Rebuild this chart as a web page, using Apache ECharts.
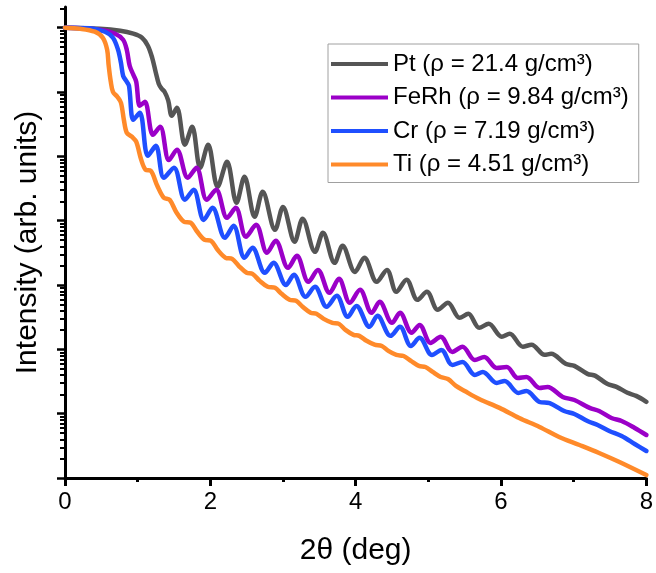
<!DOCTYPE html>
<html><head><meta charset="utf-8">
<script src="https://cdn.jsdelivr.net/npm/echarts@6/dist/echarts.min.js"></script>
<style>html,body{margin:0;padding:0;background:#fff}#c{width:656px;height:573px}</style>
</head><body><div id="c"></div>
<script>
const seriesNames = ['Pt (ρ = 21.4 g/cm³)', 'FeRh (ρ = 9.84 g/cm³)', 'Cr (ρ = 7.19 g/cm³)', 'Ti (ρ = 4.51 g/cm³)'];
const seriesColors = ['#555555', '#9b00c8', '#1f4fff', '#ff8a2a'];
const xTicks = [0, 2, 4, 6, 8];
const yMajorTicks = [1e-7, 1e-6, 1e-5, 1e-4, 1e-3, 1e-2, 1e-1, 1];

// [2theta (deg), intensity]
const ptData = [[0,1],[0.48,0.965],[0.76,0.898],[0.94,0.807],[1.06,0.699],[1.14,0.525],[1.20,0.341],[1.25,0.200],[1.29,0.135],[1.33,0.113],[1.37,0.101],[1.42,7.4e-2],[1.47,4.28e-2],[1.54,5.70e-2],[1.65,1.52e-2],[1.75,2.88e-2],[1.86,6.65e-3],[1.97,1.52e-2],[2.10,3.36e-3],[2.23,8.24e-3],[2.36,1.90e-3],[2.47,4.82e-3],[2.61,1.15e-3],[2.72,2.81e-3],[2.89,7.22e-4],[3.00,1.64e-3],[3.16,4.70e-4],[3.27,1.07e-3],[3.44,3.28e-4],[3.55,6.48e-4],[3.71,2.21e-4],[3.82,4.07e-4],[3.99,1.60e-4],[4.12,2.65e-4],[4.29,1.12e-4],[4.43,1.72e-4],[4.56,7.84e-5],[4.70,1.21e-4],[4.85,5.89e-5],[4.98,7.84e-5],[5.13,4.11e-5],[5.27,5.29e-5],[5.43,3.09e-5],[5.55,3.57e-5],[5.70,2.16e-5],[5.83,2.49e-5],[6.01,1.57e-5],[6.12,1.75e-5],[6.30,1.10e-5],[6.42,1.18e-5],[6.60,8.21e-6],[6.69,8.51e-6],[6.89,5.95e-6],[7.01,5.54e-6],[7.19,4.16e-6],[7.30,3.87e-6],[7.46,2.91e-6],[7.59,2.61e-6],[7.74,2.11e-6],[7.86,1.89e-6],[8.00,1.53e-6]];
const ferhData = [[0,1],[0.48,0.931],[0.69,0.807],[0.80,0.651],[0.85,0.455],[0.89,0.256],[0.94,0.186],[0.98,0.145],[1.03,6.12e-2],[1.10,7.06e-2],[1.21,2.16e-2],[1.31,2.88e-2],[1.43,8.76e-3],[1.54,1.27e-2],[1.69,4.65e-3],[1.81,6.65e-3],[1.95,2.11e-3],[2.08,3.02e-3],[2.23,1.11e-3],[2.35,1.59e-3],[2.49,5.62e-4],[2.63,8.63e-4],[2.78,3.17e-4],[2.90,4.87e-4],[3.07,1.85e-4],[3.19,2.84e-4],[3.35,1.12e-4],[3.48,1.72e-4],[3.64,7.56e-5],[3.77,1.25e-4],[3.92,5.29e-5],[4.06,8.42e-5],[4.22,3.70e-5],[4.33,5.48e-5],[4.50,2.58e-5],[4.61,3.70e-5],[4.77,1.81e-5],[4.88,2.40e-5],[5.03,1.26e-5],[5.17,1.57e-5],[5.33,9.11e-6],[5.47,1.10e-5],[5.64,6.84e-6],[5.77,7.62e-6],[5.94,5.14e-6],[6.08,5.32e-6],[6.23,3.59e-6],[6.35,3.72e-6],[6.53,2.51e-6],[6.64,2.60e-6],[6.85,1.82e-6],[7.01,1.63e-6],[7.22,1.23e-6],[7.35,1.10e-6],[7.52,8.57e-7],[7.66,7.70e-7],[7.84,5.99e-7],[8.00,4.66e-7]];
const crData = [[0,1],[0.34,0.982],[0.55,0.867],[0.66,0.699],[0.73,0.455],[0.77,0.285],[0.80,0.179],[0.84,0.150],[0.88,0.126],[0.94,3.71e-2],[1.03,4.76e-2],[1.14,1.02e-2],[1.25,1.46e-2],[1.36,4.65e-3],[1.50,6.65e-3],[1.65,2.11e-3],[1.77,3.02e-3],[1.91,1.03e-3],[2.03,1.59e-3],[2.20,5.42e-4],[2.32,8.33e-4],[2.47,2.65e-4],[2.58,3.80e-4],[2.75,1.55e-4],[2.87,2.21e-4],[3.04,1.00e-4],[3.15,1.44e-4],[3.31,6.55e-5],[3.44,9.38e-5],[3.60,4.58e-5],[3.74,6.79e-5],[3.89,3.20e-5],[4.01,4.74e-5],[4.19,2.24e-5],[4.30,3.32e-5],[4.48,1.62e-5],[4.61,2.24e-5],[4.76,1.13e-5],[4.88,1.51e-5],[5.05,8.18e-6],[5.18,9.79e-6],[5.33,5.72e-6],[5.47,6.37e-6],[5.64,4.00e-6],[5.75,4.45e-6],[5.94,3.00e-6],[6.05,3.22e-6],[6.24,2.10e-6],[6.35,2.25e-6],[6.53,1.52e-6],[6.67,1.46e-6],[6.87,1.10e-6],[7.01,9.9e-7],[7.19,7.70e-7],[7.33,6.67e-7],[7.49,5.39e-7],[7.66,4.50e-7],[7.84,3.38e-7],[8.00,2.63e-7]];
const tiData = [[0,1],[0.21,0.965],[0.41,0.867],[0.52,0.699],[0.58,0.455],[0.60,0.266],[0.63,0.145],[0.66,0.101],[0.72,8.45e-2],[0.77,6.82e-2],[0.81,3.71e-2],[0.85,2.33e-2],[0.92,2.02e-2],[0.98,1.69e-2],[1.05,8.76e-3],[1.11,6.19e-3],[1.18,5.97e-3],[1.27,3.49e-3],[1.36,2.27e-3],[1.44,2.11e-3],[1.53,1.37e-3],[1.64,9.61e-4],[1.73,9.28e-4],[1.81,6.97e-4],[1.92,5.05e-4],[2.01,4.87e-4],[2.10,3.53e-4],[2.21,2.65e-4],[2.30,2.55e-4],[2.39,1.99e-4],[2.50,1.55e-4],[2.58,1.49e-4],[2.68,1.16e-4],[2.79,9.38e-5],[2.89,9.04e-5],[2.98,7.30e-5],[3.09,5.89e-5],[3.18,5.68e-5],[3.27,4.58e-5],[3.38,3.70e-5],[3.46,3.57e-5],[3.56,2.98e-5],[3.68,2.58e-5],[3.77,2.49e-5],[3.86,2.01e-5],[3.97,1.68e-5],[4.05,1.62e-5],[4.15,1.36e-5],[4.26,1.18e-5],[4.36,1.13e-5],[4.45,9.44e-6],[4.56,8.18e-6],[4.66,7.89e-6],[4.76,6.60e-6],[4.87,5.52e-6],[4.96,5.32e-6],[5.06,4.45e-6],[5.17,3.72e-6],[5.27,3.46e-6],[5.38,2.70e-6],[5.50,2.25e-6],[5.70,1.69e-6],[5.98,1.23e-6],[6.25,8.57e-7],[6.53,6.22e-7],[6.80,4.34e-7],[7.08,3.26e-7],[7.35,2.45e-7],[7.63,1.77e-7],[8.00,1.11e-7]];

const allData = [ptData, ferhData, crData, tiData];

const yMinorTicks = [];
yMajorTicks.forEach(function (d) {
  for (let m = 2; m <= 9; m++) { const v = m * d; if (v <= 2.1) yMinorTicks.push(v); }
});

const FONT = '"Liberation Sans", Arial, sans-serif';
const chart = echarts.init(document.getElementById('c'), null, { renderer: 'canvas' });
const option = {
  animation: false,
  backgroundColor: '#ffffff',
  grid: { left: 65, right: 8, top: 7, bottom: 95, containLabel: false },
  legend: {
    data: seriesNames,
    orient: 'vertical',
    left: 328, top: 44,
    padding: [8, 10, 6, 3],
    itemGap: 9.5,
    itemWidth: 57, itemHeight: 4,
    icon: 'rect',
    backgroundColor: '#ffffff',
    borderColor: '#a0a0a0', borderWidth: 1,
    textStyle: { fontFamily: FONT, fontSize: 24, color: '#000', lineHeight: 22 }
  },
  xAxis: {
    type: 'value', min: 0, max: 8, interval: 2,
    name: '2θ (deg)', nameLocation: 'middle', nameGap: 58,
    nameTextStyle: { fontFamily: FONT, fontSize: 30, color: '#000' },
    axisLine: { onZero: false, lineStyle: { color: '#000', width: 3 } },
    axisTick: { length: 8, lineStyle: { color: '#000', width: 3 } },
    minorTick: { show: true, splitNumber: 2, length: 4, lineStyle: { color: '#000', width: 3 } },
    axisLabel: { fontFamily: FONT, fontSize: 24, color: '#000', margin: 12, customValues: xTicks },
    splitLine: { show: false }, minorSplitLine: { show: false }
  },
  yAxis: [{
    type: 'log', min: 1e-7, max: 2.1, logBase: 10,
    name: 'Intensity (arb. units)', nameLocation: 'middle', nameGap: 22,
    nameTextStyle: { fontFamily: FONT, fontSize: 30, color: '#000' },
    axisLine: { show: true, onZero: false, lineStyle: { color: '#000', width: 3 } },
    axisTick: { show: true, length: 8, customValues: yMajorTicks, lineStyle: { color: '#000', width: 2.5 } },
    axisLabel: { show: false },
    splitLine: { show: false }
  }, {
    type: 'log', min: 1e-7, max: 2.1, logBase: 10, position: 'left',
    axisLine: { show: false, onZero: false },
    axisTick: { show: true, length: 5, customValues: yMinorTicks, lineStyle: { color: '#000', width: 2 } },
    axisLabel: { show: false },
    splitLine: { show: false }
  }],
  series: seriesNames.map(function (n, i) {
    return {
      name: n, type: 'line', data: allData[i], yAxisIndex: 0,
      showSymbol: false, symbol: 'none', smooth: 0.33, clip: true,
      lineStyle: { width: 4.5, color: seriesColors[i], cap: 'round', join: 'round' },
      itemStyle: { color: seriesColors[i] },
      z: 2 + i
    };
  })
};
chart.setOption(option);
</script>
</body></html>
